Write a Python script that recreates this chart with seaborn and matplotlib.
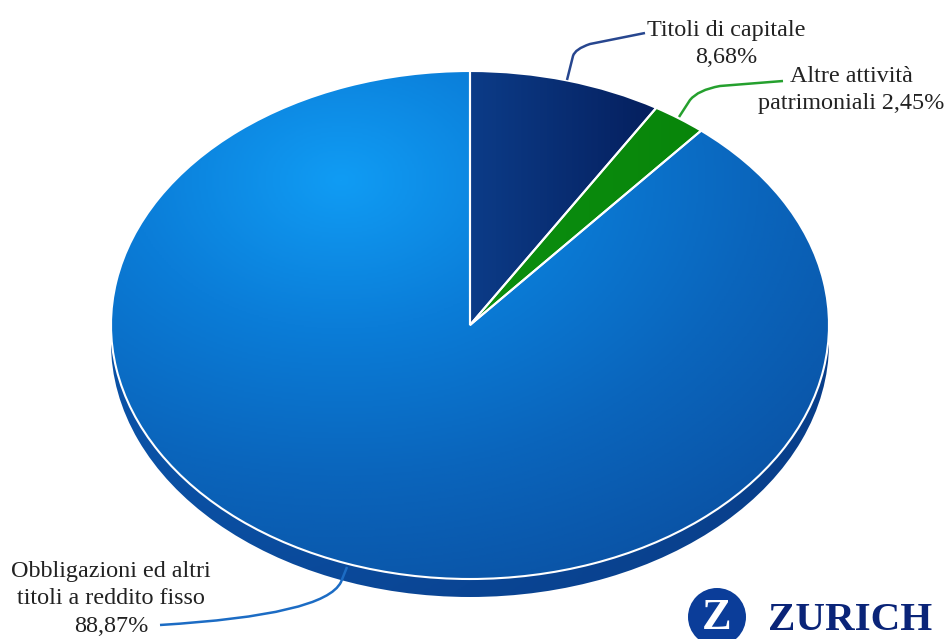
import numpy as np
import seaborn as sns
import matplotlib.pyplot as plt
from matplotlib.patches import Circle, PathPatch
from matplotlib.path import Path
from matplotlib.transforms import Affine2D

labels = ['Titoli di capitale\n8,68%', 'Altre attività\npatrimoniali 2,45%',
          'Obbligazioni ed altri\ntitoli a reddito fisso\n88,87%']
values = [8.68, 2.45, 88.87]

W, H = 949, 639
cx, cy = 470, 325
rx, ry = 359, 254
depth = 18

sns.set_theme(style='white')
plt.rcParams['font.family'] = ['Liberation Serif', 'DejaVu Serif']

fig = plt.figure(figsize=(W / 100, H / 100), dpi=100)
ax = fig.add_axes([0, 0, 1, 1])

# pixel coords of the reference, y going down
px = Affine2D().scale(1, -1).translate(0, H)

rim_cmap = sns.blend_palette(['#0B56AC', '#0A4594', '#083C86'], as_cmap=True)
main_cmap = sns.blend_palette(['#109CF4', '#0B7DD8', '#0A65BC', '#0A52A4'], as_cmap=True)
navy_cmap = sns.blend_palette(['#0C3C88', '#05205F'], as_cmap=True)
green_cmap = sns.blend_palette(['#0B8F10', '#078007'], as_cmap=True)

x0, x1 = -cx / rx, (W - cx) / rx
y0, y1 = -(H - cy) / ry, cy / ry

# side of the disc, slightly lower
rim, _ = ax.pie([sum(values)], radius=1, center=(0, -depth / ry), frame=True,
                wedgeprops={'linewidth': 0, 'facecolor': 'none'})

# top of the disc
wedges, _ = ax.pie(values, startangle=90, counterclock=False, radius=1, frame=True,
                   wedgeprops={'edgecolor': 'white', 'linewidth': 1.5, 'facecolor': 'none', 'zorder': 3})

xx, yy = np.meshgrid(np.linspace(-1, 1, 400), np.linspace(-1.1, 1.1, 400))
ext = (-1, 1, -1.1, 1.1)

rim_img = ax.imshow(np.hypot(xx + 0.7, yy + 0.3) / 2, cmap=rim_cmap, extent=ext, origin='lower',
                    aspect='auto', vmin=0, vmax=1, zorder=1)
rim_img.set_clip_path(rim[0])

main_img = ax.imshow(np.hypot((xx + 0.36), (yy - 0.57)) / 1.75, cmap=main_cmap, extent=ext,
                     origin='lower', aspect='auto', vmin=0, vmax=1, zorder=2)
main_img.set_clip_path(wedges[2])

navy_img = ax.imshow(xx / 0.5, cmap=navy_cmap, extent=ext, origin='lower', aspect='auto',
                     vmin=0, vmax=1, zorder=2)
navy_img.set_clip_path(wedges[0])

green_img = ax.imshow(xx, cmap=green_cmap, extent=ext, origin='lower', aspect='auto',
                      vmin=0, vmax=1, zorder=2)
green_img.set_clip_path(wedges[1])

ax.set_aspect('auto')
ax.set_xlim(x0, x1)
ax.set_ylim(y0, y1)
ax.axis('off')


def leader(points, codes, color):
    ax.add_patch(PathPatch(Path(points, codes), transform=px, fc='none', ec=color, lw=1.8,
                           zorder=4, clip_on=False))


bend = [Path.MOVETO, Path.LINETO, Path.CURVE3, Path.CURVE3, Path.LINETO]
leader([(567, 80), (573, 56), (575, 49), (590, 44), (645, 33)], bend, '#27468F')
leader([(679, 117), (690, 100), (698, 90), (720, 86), (783, 81)], bend, '#25A02E')
leader([(347, 567), (341, 582), (325, 615), (160, 625)],
       [Path.MOVETO, Path.LINETO, Path.CURVE3, Path.CURVE3], '#1C6CC4')

text_c = '#222222'
fs = 17.4
ax.text(726, 44, labels[0], transform=px, ha='center', va='center', fontsize=fs,
        color=text_c, linespacing=1.38)
ax.text(851, 90, labels[1], transform=px, ha='center', va='center', fontsize=fs,
        color=text_c, linespacing=1.38)
ax.text(111, 599, labels[2], transform=px, ha='center', va='center', fontsize=fs,
        color=text_c, linespacing=1.38)

# logo
ax.add_patch(Circle((717, 617), 29, transform=px, fc='#0B3D99', ec='none', zorder=5))
ax.text(717, 629, 'Z', transform=px, ha='center', va='baseline', fontsize=32, fontweight='bold',
        color='white', zorder=6)
ax.text(850, 630, 'ZURICH', transform=px, ha='center', va='baseline', fontsize=29.5,
        fontweight='bold', color='#0A2478', zorder=6)

fig.savefig('out.png', dpi=100)
